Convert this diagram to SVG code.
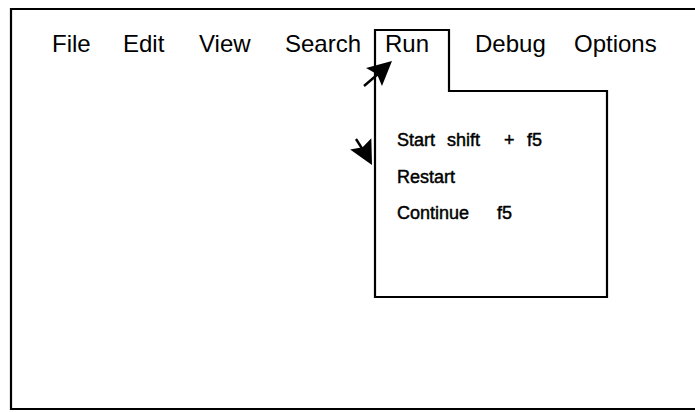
<svg xmlns="http://www.w3.org/2000/svg" width="695" height="412" viewBox="0 0 695 412">
<style>
.menu{font-family:"Liberation Sans",Arial,sans-serif;font-size:24px;fill:#000}
.item{font-family:"Liberation Sans",Arial,sans-serif;font-size:18px;fill:#000;stroke:#000;stroke-width:0.45}
.frame{fill:none;stroke:#000;stroke-width:2.2}
.conn{stroke:#000;stroke-width:2.4;fill:none}
.head{fill:#000}
</style>
<defs>
<path id="ah" class="head" d="M0,0 L-24,-12 L-20,0 L-24,12 Z"/>
</defs>
<rect width="695" height="412" fill="#fff"/>
<g id="screen">
<path class="frame" d="M695,9 H11 V409 H695"/>
</g>
<g id="menubar">
<text class="menu" x="52" y="52">File</text>
<text class="menu" x="123" y="52">Edit</text>
<text class="menu" x="199" y="52">View</text>
<text class="menu" x="285" y="52">Search</text>
<text class="menu" x="475" y="52">Debug</text>
<text class="menu" x="574" y="52">Options</text>
</g>
<g id="run-menu">
<path class="frame" d="M375,30 H449 V91 H607 V297 H375 Z" stroke-width="2.5"/>
<text class="menu" x="385" y="52">Run</text>
<text class="item" x="397" y="146">Start</text>
<text class="item" x="447" y="146">shift</text>
<text class="item" x="504" y="146">+</text>
<text class="item" x="527" y="146">f5</text>
<text class="item" x="397" y="183">Restart</text>
<text class="item" x="397" y="219">Continue</text>
<text class="item" x="497" y="219">f5</text>
</g>
<g id="connectors">
<line class="conn" x1="364" y1="86" x2="378" y2="74"/>
<use href="#ah" transform="translate(392,61) rotate(-41.5)"/>
<line class="conn" x1="356" y1="139" x2="363" y2="150"/>
<use href="#ah" transform="translate(372,165) rotate(62)"/>
</g>
</svg>
